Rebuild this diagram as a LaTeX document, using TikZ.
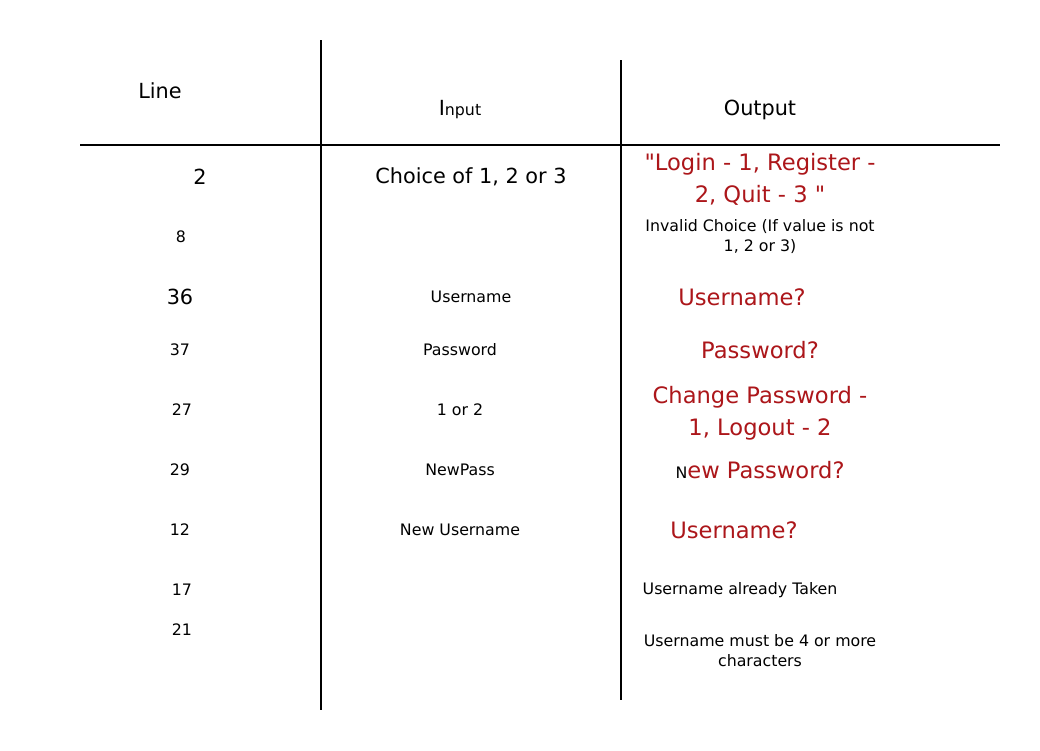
\documentclass[tikz,border=0pt]{standalone}
\usepackage{fontspec}
\setmainfont{DejaVu Sans}
\definecolor{outred}{RGB}{172,22,26}

\begin{document}
\begin{tikzpicture}[ x=1pt, y=-1pt, rule/.style={ line width=2pt },
        small/.style={ font=\fontsize{15.8}{20}\selectfont, align=center },
        medium/.style={ font=\fontsize{20.8}{26}\selectfont, align=center },
        big/.style={ font=\fontsize{22.6}{32}\selectfont, align=center,
          text=outred } ]
        \useasboundingbox[fill=white] (0,0) rectangle (1040,750);

        \draw[rule] (321,40) -- (321,710); \draw[rule] (621,60) --
        (621,700); \draw[rule] (80,145) -- (1000,145);

        % headings
        \node[medium] (hline) at (160,91) {Line};
        \node[small] (hinput) at (460,110) {{\fontsize{20.8}{26}\selectfont I}nput};
        \node[medium] (houtput) at (760,110) {Output};

        % line numbers
        \node[medium] (l2) at (200,177) {2};
        \node[medium] (l36) at (180,297) {36};
        \foreach \x/\y/\l in {181/237/8,180/350/37,182/410/27,180/470/29,
          180/530/12,182/590/17,182/630/21}
        \node[small] (l\l) at (\x,\y) {\l};

        % inputs
        \node[medium] (i2) at (471,177) {Choice of 1, 2 or 3};
        \foreach \x/\y/\n/\t in {471/297/36/Username,460/350/37/Password,
          460/410/27/1 or 2,460/470/29/NewPass,460/530/12/New Username}
        \node[small] (i\n) at (\x,\y) {\t};

        % outputs
        \node[big] (o2) at (760,179) {\textquotedbl Login - 1, Register -\\2,
          Quit - 3 \textquotedbl};
        \node[small] (o8) at (760,237) {Invalid Choice (If value is not\\1, 2 or 3)};
        \node[big] (o36) at (742,297) {Username?};
        \node[big] (o37) at (760,350) {Password?};
        \node[big] (o27) at (760,413) {Change Password -\\1, Logout - 2};
        \node[big] (o29) at (760,470) {{\color{black}\fontsize{15.8}{20}\selectfont
          N}ew Password?};
        \node[big] (o12) at (734,530) {Username?};
        \node[small] (o17) at (740,590) {Username already Taken};
        \node[small] (o21) at (760,651) {Username must be 4 or more\\characters};
      \end{tikzpicture}
\end{document}
